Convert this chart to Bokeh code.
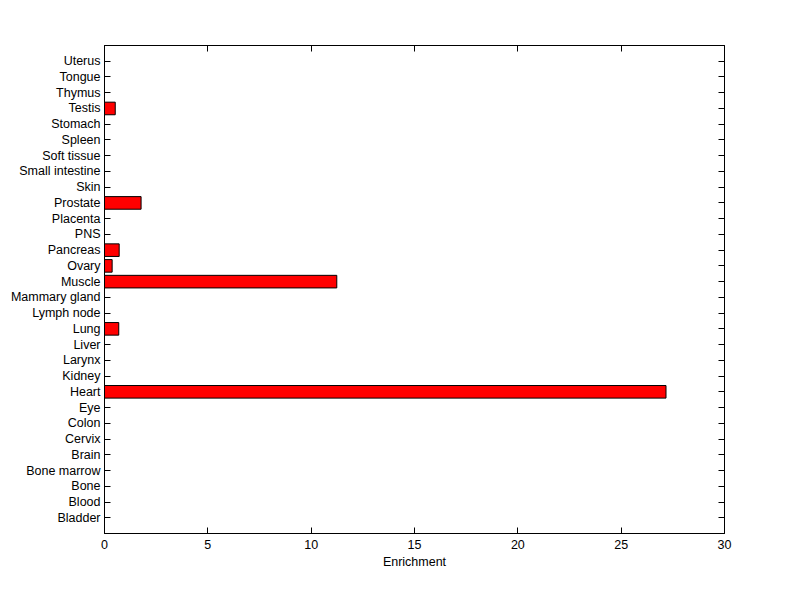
from bokeh.plotting import figure
from bokeh.models import Range1d, FixedTicker, LinearAxis, CustomLabelingPolicy
from bokeh.embed import file_html
from bokeh.resources import INLINE

categories = ["Bladder", "Blood", "Bone", "Bone marrow", "Brain", "Cervix", "Colon", "Eye",
              "Heart", "Kidney", "Larynx", "Liver", "Lung", "Lymph node", "Mammary gland",
              "Muscle", "Ovary", "Pancreas", "PNS", "Placenta", "Prostate", "Skin",
              "Small intestine", "Soft tissue", "Spleen", "Stomach", "Testis", "Thymus",
              "Tongue", "Uterus"]
values = [0, 0, 0, 0, 0, 0, 0, 0, 27.17, 0, 0, 0, 0.69, 0, 0, 11.24, 0.37, 0.71, 0, 0,
          1.77, 0, 0, 0, 0, 0, 0.52, 0, 0, 0]
x_ticks = [0, 5, 10, 15, 20, 25, 30]

positions = list(range(1, len(categories) + 1))
FONT = "Liberation Sans"
FS = "12.5px"

p = figure(width=784, height=583, output_backend="svg", toolbar_location=None,
           x_range=Range1d(0, 30), y_range=Range1d(0, len(categories) + 1),
           min_border_left=104, min_border_right=60, min_border_top=45, min_border_bottom=50)
p.frame_width = 620
p.frame_height = 488
p.xgrid.visible = False
p.ygrid.visible = False
p.outline_line_color = "black"
p.outline_line_width = 1
p.background_fill_color = "white"
p.border_fill_color = "white"

bars = p.hbar(y=positions, height=0.8, left=0, right=values, fill_color="#ff0000",
              line_color="black", line_width=1)
bars.level = "annotation"

hide = CustomLabelingPolicy(code="return new Set()")

# left axis
ya = p.yaxis[0]
ya.ticker = FixedTicker(ticks=positions)
ya.major_label_overrides = {pos: c for pos, c in zip(positions, categories)}
ya.major_tick_in = 6
ya.major_tick_out = 0
ya.minor_tick_line_color = None
ya.major_label_standoff = 4
ya.major_label_text_font = FONT
ya.major_label_text_font_size = FS
ya.major_label_text_color = "black"
ya.axis_line_color = "black"

# bottom axis
xa = p.xaxis[0]
xa.ticker = FixedTicker(ticks=x_ticks)
xa.major_tick_in = 6
xa.major_tick_out = 0
xa.minor_tick_line_color = None
xa.major_label_standoff = 6
xa.major_label_text_font = FONT
xa.major_label_text_font_size = FS
xa.major_label_text_color = "black"
xa.axis_label = "Enrichment"
xa.axis_label_text_font = FONT
xa.axis_label_text_font_size = FS
xa.axis_label_text_font_style = "normal"
xa.axis_label_text_color = "black"
xa.axis_label_standoff = 3
xa.axis_line_color = "black"

# right axis (ticks only)
ra = LinearAxis(ticker=FixedTicker(ticks=positions), major_tick_in=6, major_tick_out=0,
                minor_tick_line_color=None, major_label_policy=hide,
                axis_line_color="black")
p.add_layout(ra, "right")

# top axis (ticks only)
ta = LinearAxis(ticker=FixedTicker(ticks=x_ticks), major_tick_in=6, major_tick_out=0,
                minor_tick_line_color=None, major_label_policy=hide,
                axis_line_color="black")
p.add_layout(ta, "above")

open("out.html", "w").write(file_html(p, INLINE))
